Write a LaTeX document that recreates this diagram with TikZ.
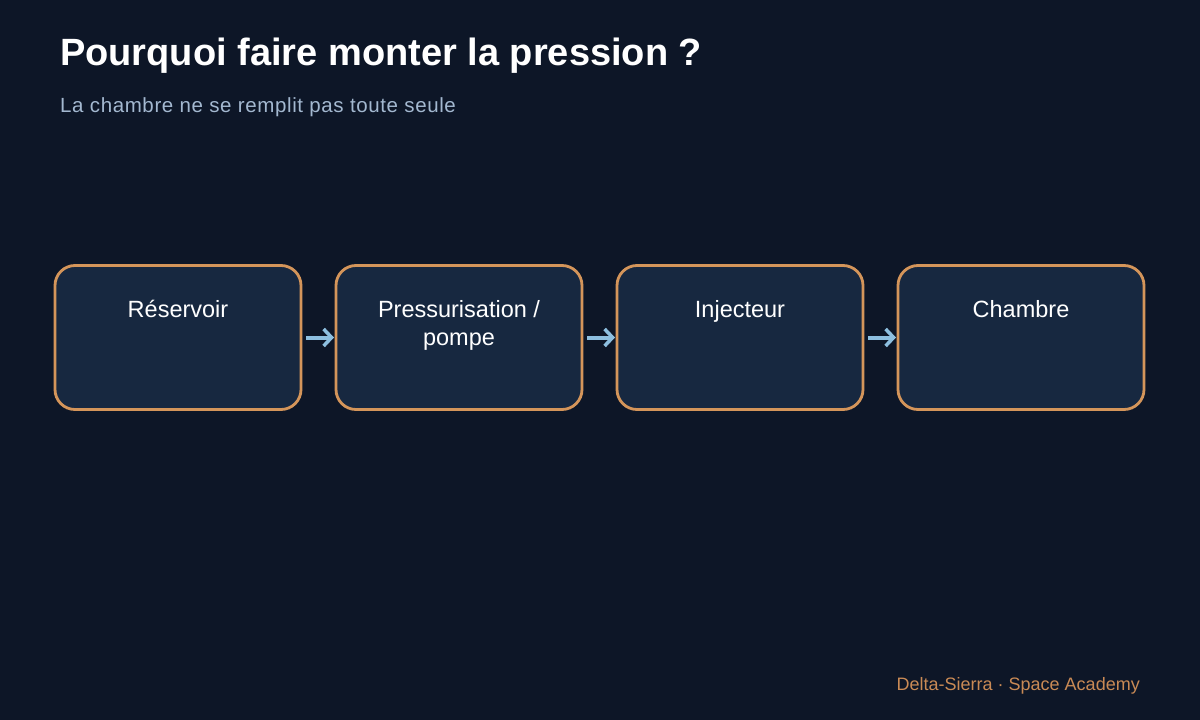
\documentclass[tikz,border=0pt]{standalone}
\usepackage{fontspec}
\setmainfont{Liberation Sans}
\usetikzlibrary{arrows.meta}
\definecolor{bg}{HTML}{0D1627}
\definecolor{boxfill}{HTML}{172840}
\definecolor{boxline}{HTML}{D4955A}
\definecolor{subt}{HTML}{A3B8D0}
\definecolor{arr}{HTML}{8DBFE0}
\definecolor{foot}{HTML}{C98A55}
\begin{document}
\begin{tikzpicture}[x=1pt,y=-1pt,
  stepbox/.style={draw=boxline,line width=2.8pt,fill=boxfill,rounded corners=20pt,minimum width=246pt,minimum height=144pt,anchor=north west,outer sep=0pt},
  boxtext/.style={text=white,font=\fontsize{23.5}{28}\selectfont,align=center,anchor=north},
  flow/.style={draw=arr,line width=4pt,-{Straight Barb[length=8pt,width=17pt,line width=3.5pt]}}]
\fill[bg] (0,0) rectangle (1200,720);
\useasboundingbox (0,0) rectangle (1200,720);
\node[anchor=base west,text=white,font=\bfseries\fontsize{38}{44}\selectfont,inner sep=0] (title) at (60,65) {Pourquoi faire monter la pression ?};
\node[anchor=base west,text=subt,font=\fontsize{20.5}{24}\selectfont\addfontfeature{LetterSpace=3},inner sep=0] (sub) at (60,112) {La chambre ne se remplit pas toute seule};
\node[stepbox] (b1) at (55,265.5) {};
\node[stepbox] (b2) at (336,265.5) {};
\node[stepbox] (b3) at (617,265.5) {};
\node[stepbox] (b4) at (898,265.5) {};
\node[boxtext] (t1) at ([yshift=-31pt]b1.north) {Réservoir};
\node[boxtext] (t2) at ([yshift=-31pt]b2.north) {Pressurisation /\\pompe};
\node[boxtext] (t3) at ([yshift=-31pt]b3.north) {Injecteur};
\node[boxtext] (t4) at ([yshift=-31pt]b4.north) {Chambre};
\draw[flow] ([xshift=5pt]b1.east) -- ([xshift=-2pt]b2.west);
\draw[flow] ([xshift=5pt]b2.east) -- ([xshift=-2pt]b3.west);
\draw[flow] ([xshift=5pt]b3.east) -- ([xshift=-2pt]b4.west);
\node[anchor=base east,text=foot,font=\fontsize{18}{22}\selectfont,inner sep=0] (foot) at (1140,690) {Delta-Sierra · Space Academy};
\end{tikzpicture}
\end{document}
